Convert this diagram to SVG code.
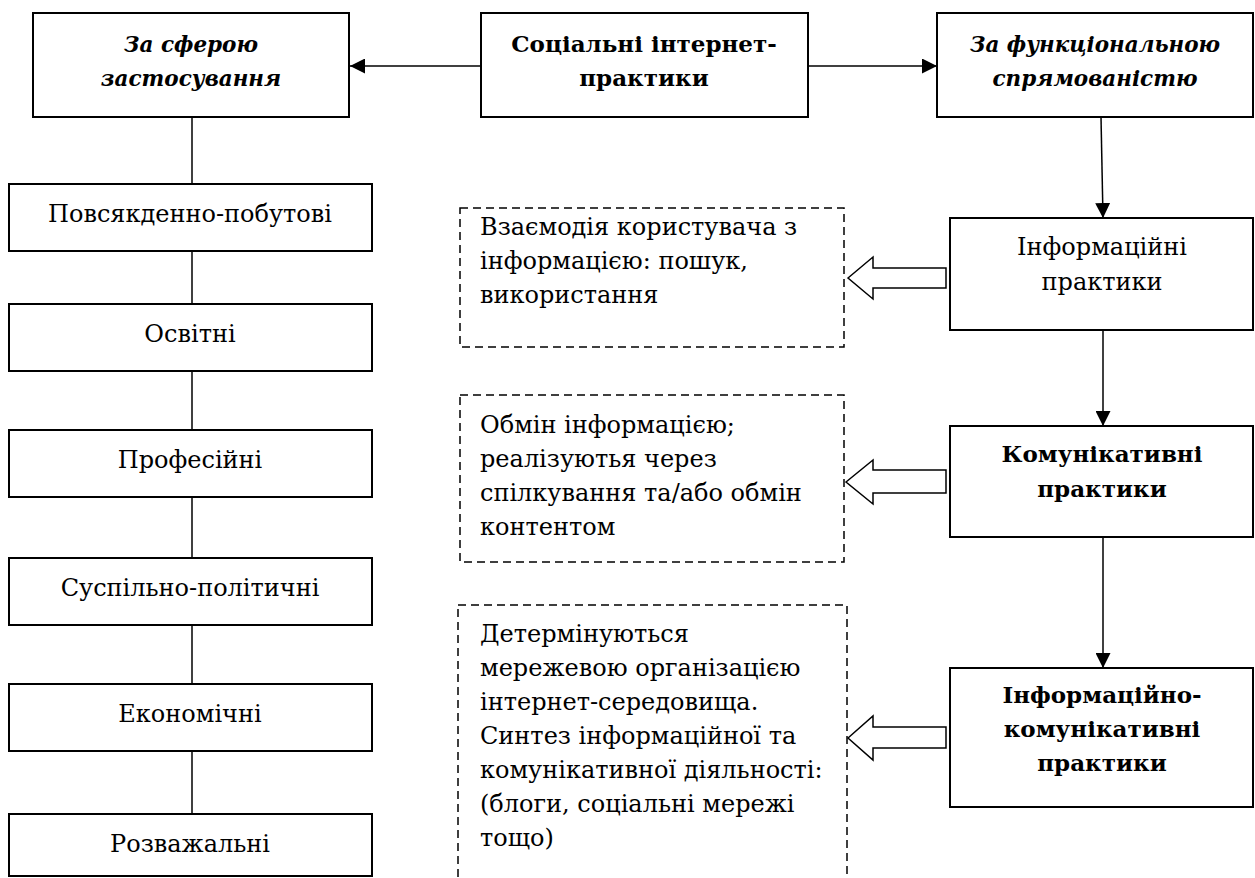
<svg xmlns="http://www.w3.org/2000/svg" width="1255" height="878" viewBox="0 0 1255 878">
<style>
text{font-family:"DejaVu Serif","Liberation Serif",serif;font-size:24px;fill:#000;text-anchor:middle}
.b{font-weight:bold;font-size:23px}
.bi{font-weight:bold;font-style:italic;font-size:21.5px}
.l{text-anchor:start}
.box{fill:#fff;stroke:#000;stroke-width:2}
.dash{fill:#fff;stroke:#000;stroke-width:1.5;stroke-dasharray:8 5}
.ln{stroke:#000;stroke-width:1.5;fill:none}
.hollow{fill:#fff;stroke:#000;stroke-width:1.5}
</style>
<defs>
<marker id="ah" markerUnits="userSpaceOnUse" markerWidth="15" markerHeight="15" refX="15" refY="7.5" orient="auto">
<path d="M0,0 L15,7.5 L0,15 z" fill="#000"/>
</marker>
</defs>
<rect width="1255" height="878" fill="#fff"/>
<g id="connectors">
<line class="ln" x1="481" y1="66" x2="350" y2="66" marker-end="url(#ah)"/>
<line class="ln" x1="808" y1="66" x2="937" y2="66" marker-end="url(#ah)"/>
<line class="ln" x1="192" y1="117" x2="192" y2="184"/>
<line class="ln" x1="192" y1="251" x2="192" y2="304"/>
<line class="ln" x1="192" y1="371" x2="192" y2="430"/>
<line class="ln" x1="192" y1="497" x2="192" y2="558"/>
<line class="ln" x1="192" y1="625" x2="192" y2="684"/>
<line class="ln" x1="192" y1="751" x2="192" y2="814"/>
<line class="ln" x1="1101" y1="117" x2="1103" y2="218" marker-end="url(#ah)"/>
<line class="ln" x1="1103" y1="330" x2="1103" y2="426" marker-end="url(#ah)"/>
<line class="ln" x1="1103" y1="537" x2="1103" y2="668" marker-end="url(#ah)"/>
<polygon class="hollow" points="848,278 873,257 873,268 946,268 946,288 873,288 873,299"/>
<polygon class="hollow" points="846,482 873,460 873,470 946,470 946,493 873,493 873,504"/>
<polygon class="hollow" points="848,738 873,716 873,727 946,727 946,748 873,748 873,760"/>
</g>
<g id="n-sfera"><rect class="box" x="33" y="13" width="316" height="104"/><text class="bi" x="191" y="52">За сферою</text><text class="bi" x="191" y="86">застосування</text></g>
<g id="n-social"><rect class="box" x="481" y="13" width="327" height="104"/><text class="b" x="644" y="52">Соціальні інтернет-</text><text class="b" x="644" y="86">практики</text></g>
<g id="n-func"><rect class="box" x="937" y="13" width="316" height="104"/><text class="bi" x="1095" y="52">За функціональною</text><text class="bi" x="1095" y="86">спрямованістю</text></g>
<g id="n-pobut"><rect class="box" x="9" y="184" width="363" height="67"/><text x="190" y="222">Повсякденно-побутові</text></g>
<g id="n-osvit"><rect class="box" x="9" y="304" width="363" height="67"/><text x="190" y="342">Освітні</text></g>
<g id="n-prof"><rect class="box" x="9" y="430" width="363" height="67"/><text x="190" y="468">Професійні</text></g>
<g id="n-susp"><rect class="box" x="9" y="558" width="363" height="67"/><text x="190" y="596">Суспільно-політичні</text></g>
<g id="n-econ"><rect class="box" x="9" y="684" width="363" height="67"/><text x="190" y="722">Економічні</text></g>
<g id="n-rozv"><rect class="box" x="9" y="814" width="363" height="62"/><text x="190" y="852">Розважальні</text></g>
<g id="n-info"><rect class="box" x="950" y="218" width="303" height="112"/><text x="1102" y="255">Інформаційні</text><text x="1102" y="290">практики</text></g>
<g id="n-komun"><rect class="box" x="950" y="426" width="303" height="111"/><text class="b" x="1102" y="462">Комунікативні</text><text class="b" x="1102" y="497">практики</text></g>
<g id="n-infokom"><rect class="box" x="950" y="668" width="303" height="139"/><text class="b" x="1102" y="703">Інформаційно-</text><text class="b" x="1102" y="737">комунікативні</text><text class="b" x="1102" y="771">практики</text></g>
<g id="d-info"><rect class="dash" x="460" y="208" width="384" height="139"/><text class="l" x="480" y="235">Взаємодія користувача з</text><text class="l" x="480" y="269">інформацією: пошук,</text><text class="l" x="480" y="303">використання</text></g>
<g id="d-komun"><rect class="dash" x="460" y="395" width="384" height="167"/><text class="l" x="480" y="433">Обмін інформацією;</text><text class="l" x="480" y="467">реалізуютья через</text><text class="l" x="480" y="501">спілкування та/або обмін</text><text class="l" x="480" y="535">контентом</text></g>
<g id="d-infokom"><rect class="dash" x="458" y="605" width="389" height="280"/><text class="l" x="480" y="642">Детермінуються</text><text class="l" x="480" y="676">мережевою організацією</text><text class="l" x="480" y="710">інтернет-середовища.</text><text class="l" x="480" y="744">Синтез інформаційної та</text><text class="l" x="480" y="778">комунікативної діяльності:</text><text class="l" x="480" y="812">(блоги, соціальні мережі</text><text class="l" x="480" y="846">тощо)</text></g>
</svg>
